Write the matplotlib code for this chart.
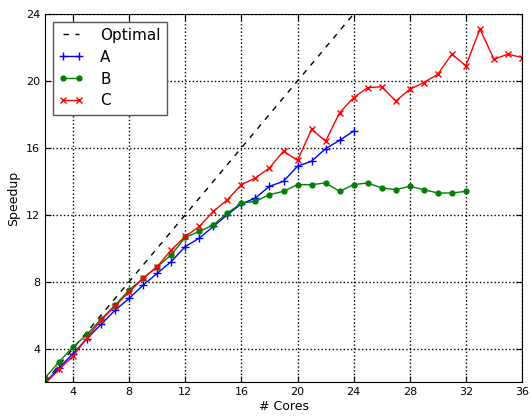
import matplotlib
matplotlib.use("Agg")
import matplotlib.pyplot as plt

# --- Data ---
cores_c = list(range(2, 37))
speedup_c = [1.9, 2.75, 3.55, 4.65, 5.7, 6.55, 7.4, 8.2, 8.9, 9.9, 10.7, 11.3, 12.2,
             12.9, 13.8, 14.2, 14.8, 15.8, 15.25, 17.1, 16.4, 18.1, 19.0, 19.6,
             19.65, 18.8, 19.5, 19.9, 20.4, 21.6, 20.9, 23.1, 21.3, 21.6, 21.4]

cores_a = list(range(2, 25))
speedup_a = [1.95, 2.85, 3.7, 4.6, 5.45, 6.3, 7.0, 7.8, 8.5, 9.2, 10.1, 10.6, 11.3,
             12.0, 12.65, 13.0, 13.7, 14.0, 14.9, 15.2, 15.95, 16.45, 17.0]

cores_b = list(range(2, 33))
speedup_b = [2.25, 3.2, 4.1, 4.85, 5.75, 6.6, 7.5, 8.2, 8.9, 9.6, 10.65, 11.0, 11.4,
             12.1, 12.7, 12.8, 13.2, 13.4, 13.8, 13.8, 13.9, 13.4, 13.8, 13.9,
             13.6, 13.5, 13.7, 13.5, 13.3, 13.3, 13.4]

optimal = [2, 24]

plt.rcParams.update({
    "font.family": "DejaVu Sans",
    "xtick.direction": "in",
    "ytick.direction": "in",
    "xtick.top": True,
    "ytick.right": True,
    "xtick.major.size": 4,
    "ytick.major.size": 4,
})

fig = plt.figure(figsize=(5.32, 4.16), dpi=100)
ax = fig.add_axes([0.0846, 0.0817, 0.8966, 0.8846])

ax.plot(optimal, optimal, color="black", ls="--", dashes=(4, 4.5), lw=1, label="Optimal")
ax.plot(cores_a, speedup_a, color="blue", marker="+", ms=6, mew=1, lw=1, label="A")
ax.plot(cores_b, speedup_b, color="green", marker=".", ms=7, lw=1, label="B")
ax.plot(cores_c, speedup_c, color="red", marker="x", ms=5, mew=1, lw=1, label="C")

ax.set_xlim(2, 36)
ax.set_ylim(2, 24)
ax.set_xticks(range(4, 37, 4))
ax.set_yticks(range(4, 25, 4))
ax.tick_params(labelsize=8)
ax.grid(True, color="black", linestyle=":", linewidth=1)
ax.set_xlabel("# Cores", fontsize=9, labelpad=2)
ax.set_ylabel("Speedup", fontsize=9, labelpad=4)

leg = ax.legend(loc="upper left", fontsize=11, fancybox=False, framealpha=1,
                edgecolor="#555555", numpoints=2, handlelength=1.6,
                handletextpad=1.1, labelspacing=0.45, borderaxespad=0.5)
leg.get_frame().set_linewidth(1)

fig.savefig("out.png", dpi=100)
